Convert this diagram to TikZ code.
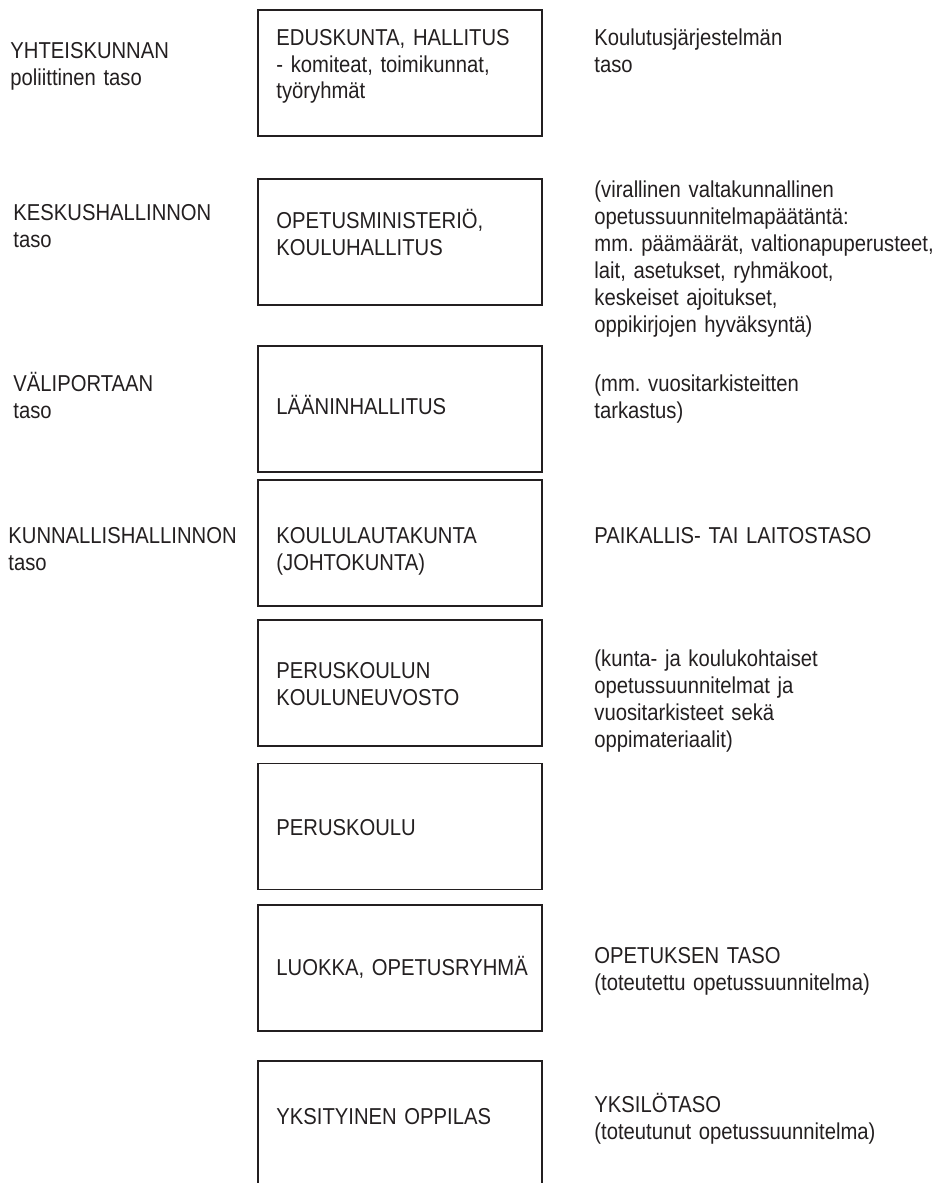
\documentclass[tikz,border=0pt]{standalone}
\usepackage{fontspec}
\setmainfont{Liberation Sans}[FakeStretch=0.88]
\frenchspacing
\definecolor{ink}{RGB}{35,31,32}
\tikzset{levelbox/.style={rectangle, draw=ink, line width=0.9pt, minimum width=142pt, minimum height=63pt, inner sep=0pt}}
\tikzset{lbl/.style={anchor=base west, align=left, text width=200pt, inner sep=0pt, text=ink, font=\fontsize{11.5}{13.5}\selectfont}}

\begin{document}
\begin{tikzpicture}[x=0.5pt, y=-0.5pt]

    \useasboundingbox (0,0) rectangle (948,1183);
    \clip (0,0) rectangle (948,1183);

    % boxes of the levels
    \node (eduskunta) [levelbox] at (400,73) {};
    \node (ministerio) [levelbox] at (400,242) {};
    \node (laani) [levelbox] at (400,409) {};
    \node (lautakunta) [levelbox] at (400,543) {};
    \node (neuvosto) [levelbox] at (400,683) {};
    \node (peruskoulu) [levelbox] at (400,826.5) {};
    \node (luokka) [levelbox] at (400,968) {};
    \node (oppilas) [levelbox] at (400,1124) {};

    % texts in the boxes
    \node (eduskuntaT) [lbl] at (276,45) {EDUSKUNTA, HALLITUS\\- komiteat, toimikunnat,\\työryhmät};
    \node (ministerioT) [lbl] at (276,228) {OPETUSMINISTERIÖ,\\KOULUHALLITUS};
    \node (laaniT) [lbl] at (276,414) {LÄÄNINHALLITUS};
    \node (lautakuntaT) [lbl] at (276,543) {KOULULAUTAKUNTA\\(JOHTOKUNTA)};
    \node (neuvostoT) [lbl] at (276,678) {PERUSKOULUN\\KOULUNEUVOSTO};
    \node (peruskouluT) [lbl] at (276,835) {PERUSKOULU};
    \node (luokkaT) [lbl] at (276,975) {LUOKKA, OPETUSRYHMÄ};
    \node (oppilasT) [lbl] at (276,1124) {YKSITYINEN OPPILAS};

    % left column
    \node (yhteiskunta) [lbl] at (10,58) {YHTEISKUNNAN\\poliittinen taso};
    \node (keskus) [lbl] at (13,220) {KESKUSHALLINNON\\taso};
    \node (valiporras) [lbl] at (13,391) {VÄLIPORTAAN\\taso};
    \node (kunta) [lbl] at (8,543) {KUNNALLISHALLINNON\\taso};

    % right column
    \node (jarjestelma) [lbl] at (594,45) {Koulutusjärjestelmän\\taso};
    \node (virallinen) [lbl] at (594,197) {(virallinen valtakunnallinen\\opetussuunnitelmapäätäntä:\\mm. päämäärät, valtionapuperusteet,\\lait, asetukset, ryhmäkoot,\\keskeiset ajoitukset,\\oppikirjojen hyväksyntä)};
    \node (tarkastus) [lbl] at (594,391) {(mm. vuositarkisteitten\\tarkastus)};
    \node (paikallis) [lbl] at (594,543) {PAIKALLIS- TAI LAITOSTASO};
    \node (kuntakoulu) [lbl] at (594,666) {(kunta- ja koulukohtaiset\\opetussuunnitelmat ja\\vuositarkisteet sekä\\oppimateriaalit)};
    \node (opetus) [lbl] at (594,963) {OPETUKSEN TASO\\(toteutettu opetussuunnitelma)};
    \node (yksilo) [lbl] at (594,1112) {YKSILÖTASO\\(toteutunut opetussuunnitelma)};

\end{tikzpicture}
\end{document}
